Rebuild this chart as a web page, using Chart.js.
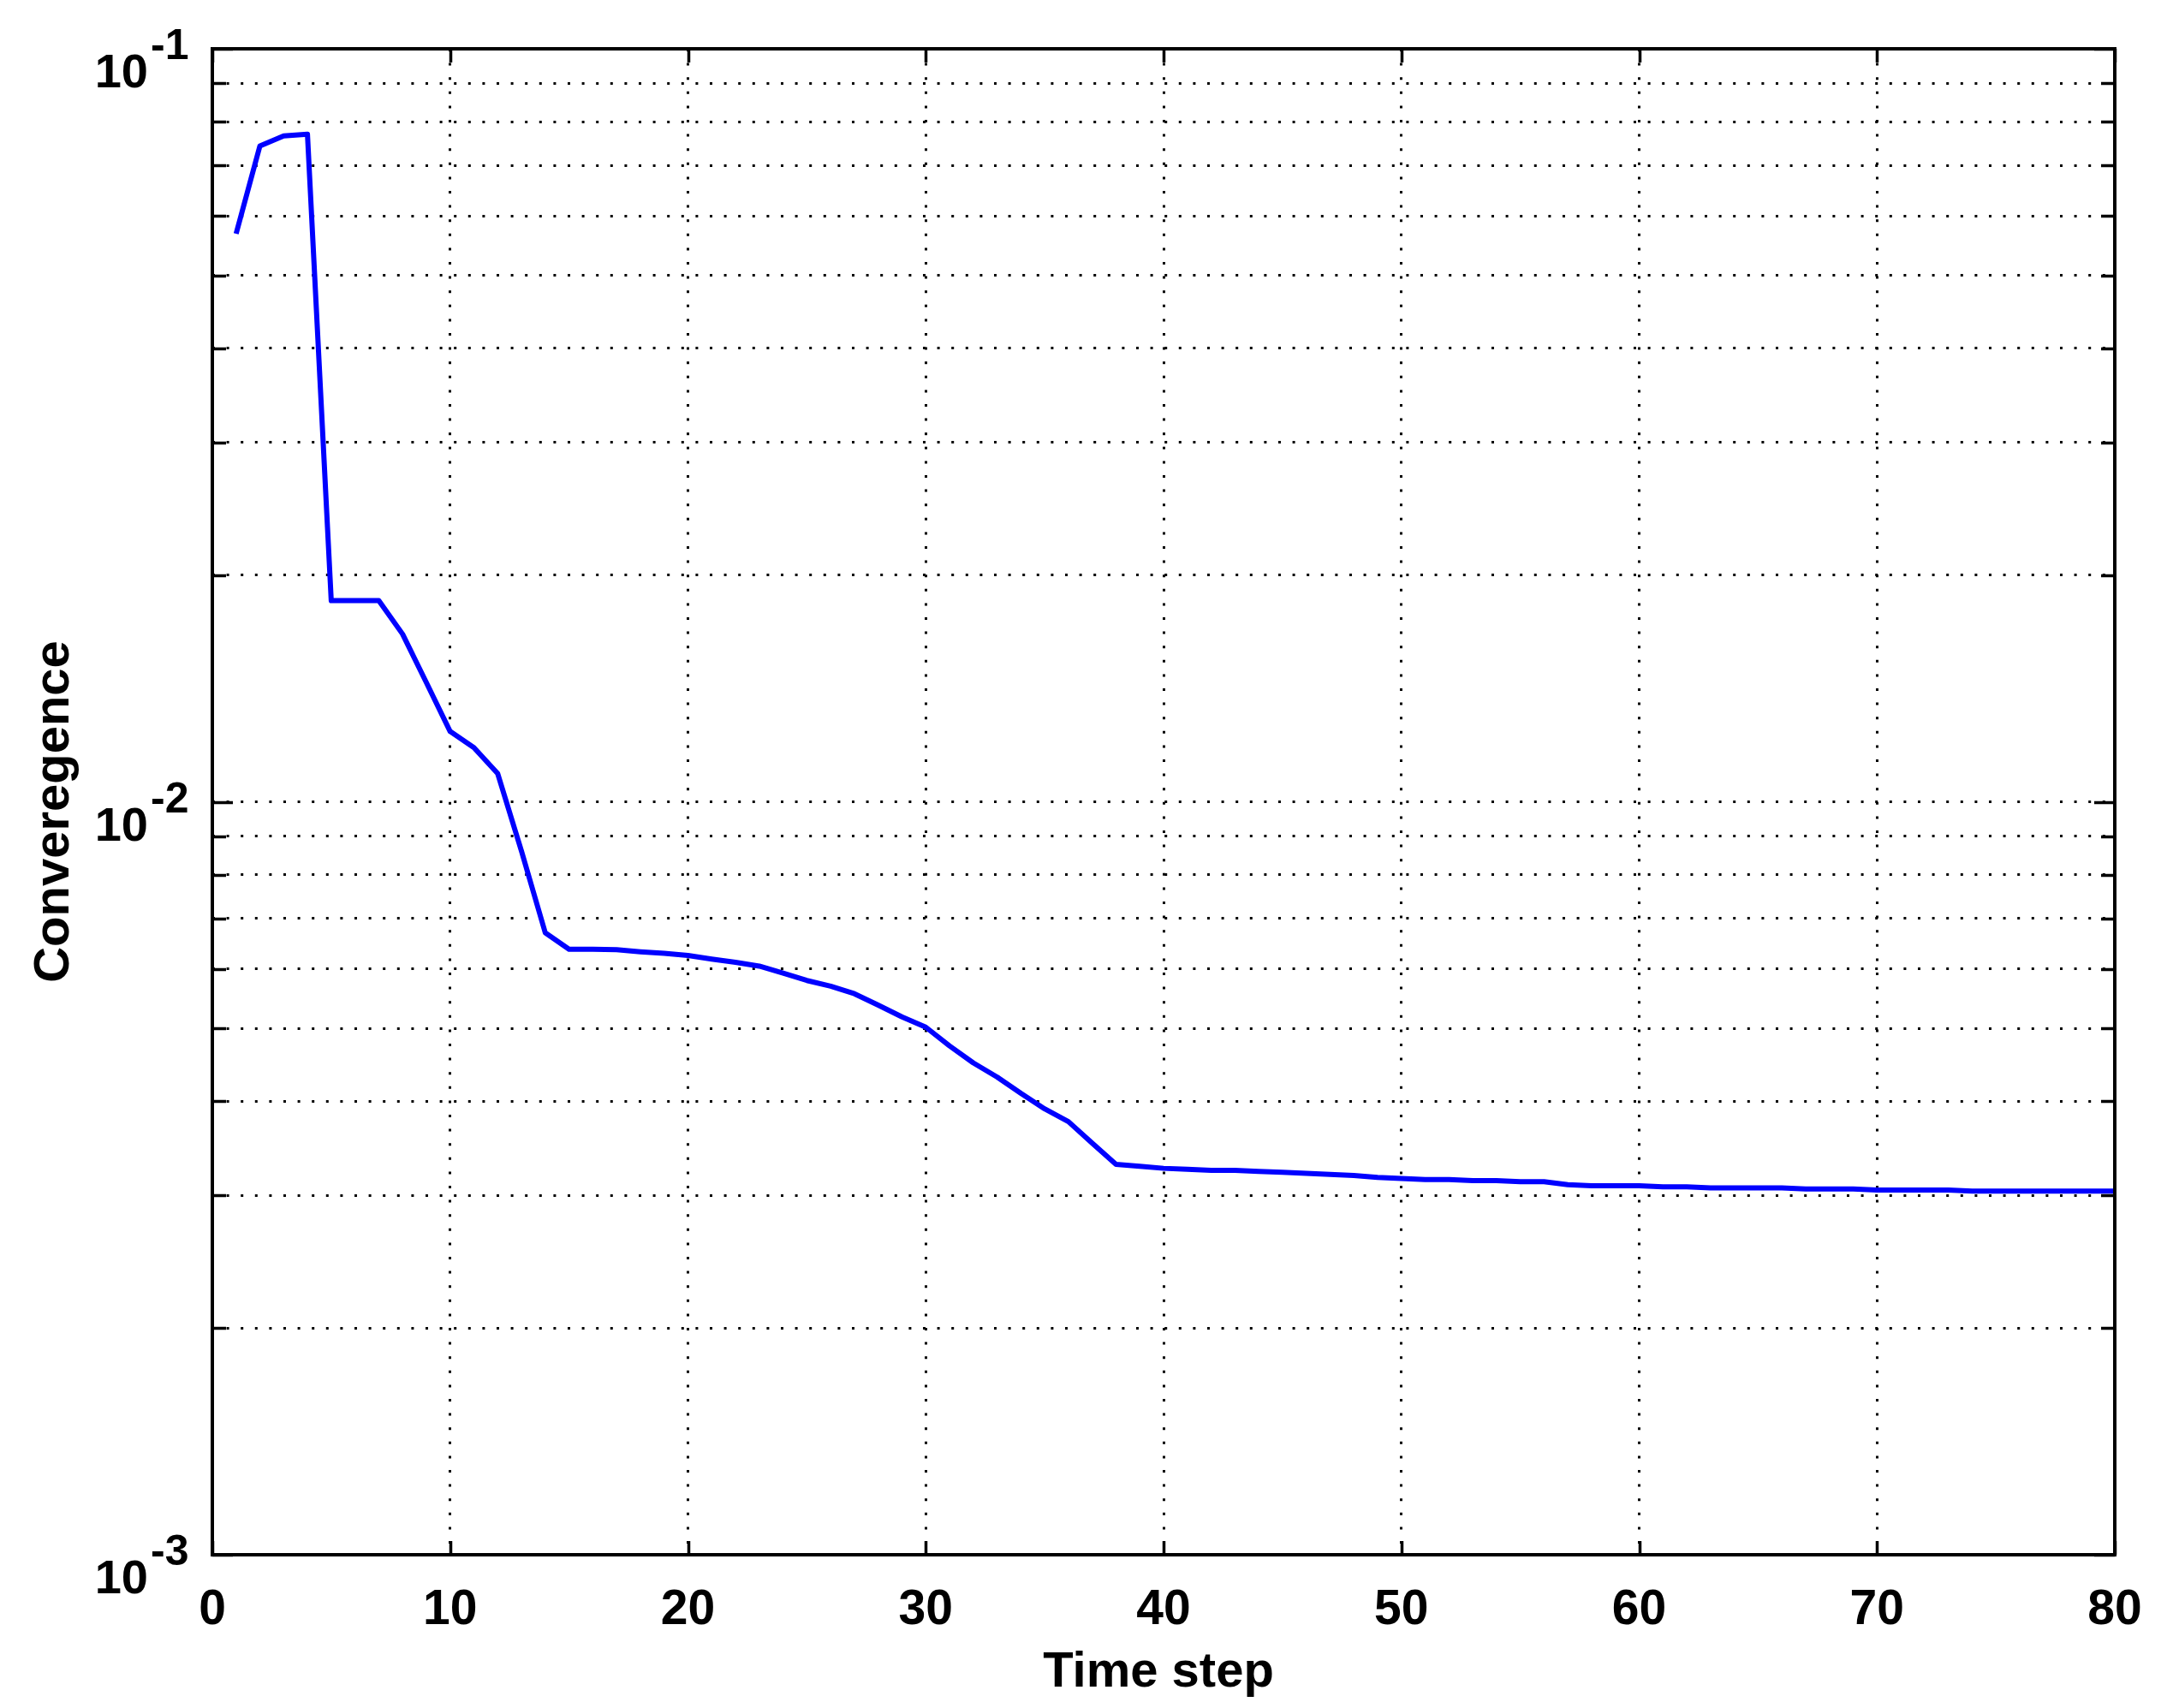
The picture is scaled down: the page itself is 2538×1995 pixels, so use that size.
<!DOCTYPE html>
<html>
<head>
<meta charset="utf-8">
<script src="https://cdn.jsdelivr.net/npm/chart.js@4/dist/chart.umd.min.js"></script>
<style>
  html, body { margin: 0; padding: 0; background: #ffffff; }
  canvas { display: block; }
</style>
</head>
<body>
<canvas id="c" width="2538" height="1995"></canvas>
<script>
// ---- data ----
const timeSteps = [
  1,2,3,4,5,6,7,8,9,10,11,12,13,14,15,16,17,18,19,20,
  21,22,23,24,25,26,27,28,29,30,31,32,33,34,35,36,37,38,39,40,
  41,42,43,44,45,46,47,48,49,50,51,52,53,54,55,56,57,58,59,60,
  61,62,63,64,65,66,67,68,69,70,71,72,73,74,75,76,77,78,79,80
];
const convergence = [
  0.0568, 0.0743, 0.0766, 0.0770, 0.0185, 0.0185, 0.0185, 0.0167, 0.0144, 0.0124,
  0.0118, 0.0109, 0.0086, 0.0067, 0.00637, 0.00637, 0.00636, 0.00632, 0.00629, 0.00625,
  0.00618, 0.00612, 0.00605, 0.00592, 0.00579, 0.00569, 0.00556, 0.00537, 0.00518, 0.00502,
  0.00474, 0.00450, 0.00431, 0.00410, 0.00391, 0.00376, 0.00352, 0.00330, 0.00328, 0.00326,
  0.00325, 0.00324, 0.00324, 0.00323, 0.00322, 0.00321, 0.00320, 0.00319, 0.00317, 0.00316,
  0.00315, 0.00315, 0.00314, 0.00314, 0.00313, 0.00313, 0.00310, 0.00309, 0.00309, 0.00309,
  0.00308, 0.00308, 0.00307, 0.00307, 0.00307, 0.00307, 0.00306, 0.00306, 0.00306, 0.00305,
  0.00305, 0.00305, 0.00305, 0.00304, 0.00304, 0.00304, 0.00304, 0.00304, 0.00304, 0.00304
];
const xTickValues = [0, 10, 20, 30, 40, 50, 60, 70, 80];
const xTickLabels = ['0', '10', '20', '30', '40', '50', '60', '70', '80'];
const yGridValues = [
  0.001, 0.002, 0.003, 0.004, 0.005, 0.006, 0.007, 0.008, 0.009,
  0.01, 0.02, 0.03, 0.04, 0.05, 0.06, 0.07, 0.08, 0.09, 0.1
];
const yMajorValues = [0.001, 0.01, 0.1];
const yMajorExponents = ['-3', '-2', '-1'];
const xTitle = 'Time step';
const yTitle = 'Converegence';

// ---- drawing helpers ----
const FONT = '"Liberation Sans", Arial, Helvetica, sans-serif';

const framePlugin = {
  id: 'matlabFrame',
  afterDraw(chart) {
    const ctx = chart.ctx;
    const a = chart.chartArea;
    const xs = chart.scales.x, ys = chart.scales.y;
    ctx.save();
    ctx.strokeStyle = '#000';
    ctx.lineCap = 'butt';
    // tick marks (inward, both sides)
    ctx.lineWidth = 3.5;
    ctx.beginPath();
    xTickValues.forEach(v => {
      const px = Math.round(xs.getPixelForValue(v)) + 0.5;
      ctx.moveTo(px, a.bottom); ctx.lineTo(px, a.bottom - 16);
      ctx.moveTo(px, a.top); ctx.lineTo(px, a.top + 16);
    });
    yGridValues.forEach(v => {
      const py = Math.round(ys.getPixelForValue(v)) + 0.5;
      const len = yMajorValues.includes(v) ? 24 : 16;
      ctx.moveTo(a.left, py); ctx.lineTo(a.left + len, py);
      ctx.moveTo(a.right, py); ctx.lineTo(a.right - len, py);
    });
    ctx.stroke();
    // box
    ctx.lineWidth = 4;
    ctx.strokeRect(a.left, a.top, a.right - a.left, a.bottom - a.top);

    ctx.fillStyle = '#000';
    // x tick labels
    ctx.font = 'bold 57px ' + FONT;
    ctx.textAlign = 'center';
    ctx.textBaseline = 'alphabetic';
    xTickValues.forEach((v, i) => {
      ctx.fillText(xTickLabels[i], xs.getPixelForValue(v), a.bottom + 81);
    });
    // y tick labels with superscripts
    yMajorValues.forEach((v, i) => {
      const py = ys.getPixelForValue(v);
      ctx.font = 'bold 56px ' + FONT;
      ctx.textAlign = 'right';
      ctx.fillText('10', a.left - 75, py + 45);
      ctx.font = 'bold 50px ' + FONT;
      ctx.textAlign = 'left';
      ctx.fillText(yMajorExponents[i], a.left - 72, py + 12);
    });
    // x title
    ctx.font = 'bold 58px ' + FONT;
    ctx.textAlign = 'center';
    ctx.fillText(xTitle, (a.left + a.right) / 2 - 6, 1970);
    // y title
    ctx.save();
    ctx.translate(80, 948);
    ctx.rotate(-Math.PI / 2);
    ctx.textAlign = 'center';
    ctx.textBaseline = 'alphabetic';
    ctx.fillText(yTitle, 0, 0);
    ctx.restore();
    ctx.restore();
  }
};

new Chart(document.getElementById('c'), {
  type: 'line',
  data: {
    datasets: [{
      data: timeSteps.map((t, i) => ({ x: t, y: convergence[i] })),
      borderColor: '#0000ff',
      borderWidth: 6,
      pointRadius: 0,
      tension: 0,
      fill: false,
      borderJoinStyle: 'round'
    }]
  },
  options: {
    responsive: false,
    animation: false,
    devicePixelRatio: 1,
    layout: { padding: { left: 248, right: 68, top: 57, bottom: 179 } },
    plugins: { legend: { display: false }, tooltip: { enabled: false } },
    scales: {
      x: {
        type: 'linear',
        min: 0, max: 80,
        afterBuildTicks: s => { s.ticks = xTickValues.map(v => ({ value: v })); },
        afterFit: s => { s.height = 0; },
        ticks: { display: false },
        grid: { color: '#000', lineWidth: 3, drawTicks: false },
        border: { display: false, dash: [3, 13.6] }
      },
      y: {
        type: 'logarithmic',
        min: 0.001, max: 0.1,
        afterBuildTicks: s => { s.ticks = yGridValues.map(v => ({ value: v })); },
        afterFit: s => { s.width = 0; },
        ticks: { display: false },
        grid: { color: '#000', lineWidth: 3, drawTicks: false },
        border: { display: false, dash: [3, 13.6] }
      }
    }
  },
  plugins: [framePlugin]
});
</script>
</body>
</html>
